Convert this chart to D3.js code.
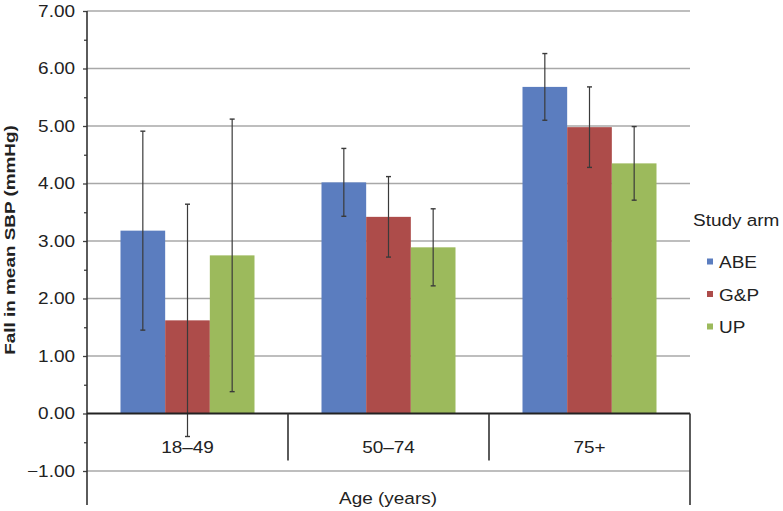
<!DOCTYPE html>
<html>
<head>
<meta charset="utf-8">
<script src="https://cdn.jsdelivr.net/npm/d3@7"></script>
<style>
  html, body { margin: 0; padding: 0; background: #fff; }
  svg { display: block; }
  text { font-family: "Liberation Sans", Arial, sans-serif; fill: #222; }
</style>
</head>
<body>
<svg id="chart" width="783" height="511"></svg>
<script>
// ---- data ----
const categories = ["18\u201349", "50\u201374", "75+"];
const seriesNames = ["ABE", "G&P", "UP"];
const seriesColors = ["#5b7dbf", "#ad4c4a", "#9cba5c"];
const meanABE = [3.18, 4.02, 5.68];
const meanGP  = [1.62, 3.42, 4.98];
const meanUP  = [2.75, 2.89, 4.35];
const errABE  = [1.73, 0.59, 0.58];
const errGP   = [2.02, 0.70, 0.70];
const errUP   = [2.37, 0.67, 0.64];
const yTicks = [-1, 0, 1, 2, 3, 4, 5, 6, 7];
const yMinorTicks = [-0.5, 0.5, 1.5, 2.5, 3.5, 4.5, 5.5, 6.5];
const yTitle = "Fall in mean SBP (mmHg)";
const xTitle = "Age (years)";
const legendTitle = "Study arm";

const means = [meanABE, meanGP, meanUP];
const errs = [errABE, errGP, errUP];

// ---- layout ----
const plotLeft = 87, plotRight = 690, plotTop = 11, bottomLine = 505;
const SX = 1.15; // horizontal text stretch
const svg = d3.select("#chart");

const y = d3.scaleLinear().domain([-1, 7]).range([471, plotTop]);
const x0 = d3.scaleBand().domain(categories).range([plotLeft, plotRight]).paddingInner(0).paddingOuter(0);
const x1 = d3.scaleBand().domain(seriesNames).range([0, x0.bandwidth()]).paddingInner(0).paddingOuter(0.75);

// gridlines
svg.append("g").selectAll("line")
  .data(yTicks.filter(d => d !== 0))
  .join("line")
  .attr("x1", plotLeft).attr("x2", plotRight)
  .attr("y1", d => y(d)).attr("y2", d => y(d))
  .attr("stroke", "#a8a8a8").attr("stroke-width", 1.4);

// bars
const groups = svg.append("g").selectAll("g")
  .data(categories)
  .join("g")
  .attr("transform", d => `translate(${x0(d)},0)`);

groups.each(function(cat, ci) {
  const g = d3.select(this);
  seriesNames.forEach((s, si) => {
    const v = means[si][ci];
    g.append("rect")
      .attr("x", x1(s)).attr("width", x1.bandwidth())
      .attr("y", y(Math.max(v, 0))).attr("height", Math.abs(y(v) - y(0)))
      .attr("fill", seriesColors[si]);
  });
});

// error bars
groups.each(function(cat, ci) {
  const g = d3.select(this);
  seriesNames.forEach((s, si) => {
    const v = means[si][ci], e = errs[si][ci];
    const cx = x1(s) + x1.bandwidth() / 2;
    g.append("line").attr("x1", cx).attr("x2", cx)
      .attr("y1", y(v + e)).attr("y2", y(v - e))
      .attr("stroke", "#3a3a3a").attr("stroke-width", 1.2);
    [v + e, v - e].forEach(t => {
      g.append("line").attr("x1", cx - 2.5).attr("x2", cx + 2.5)
        .attr("y1", y(t)).attr("y2", y(t))
        .attr("stroke", "#3a3a3a").attr("stroke-width", 1.4);
    });
  });
});

// y axis
const yAxis = d3.axisLeft(y).tickValues(yTicks).tickSize(4).tickSizeOuter(0)
  .tickFormat(d3.format(".2f")).tickPadding(8);
const yg = svg.append("g").attr("transform", `translate(${plotLeft},0)`).call(yAxis);
yg.select(".domain").remove();
yg.selectAll(".tick line").attr("stroke", "#404040").attr("stroke-width", 1.3);
yg.selectAll(".tick text")
  .attr("font-size", 16.5)
  .attr("fill", "#222")
  .attr("x", -12 / SX)
  .attr("transform", `scale(${SX},1)`);

const yMinor = d3.axisLeft(y).tickValues(yMinorTicks).tickSize(3).tickFormat("");
const ym = svg.append("g").attr("transform", `translate(${plotLeft},0)`).call(yMinor);
ym.select(".domain").remove();
ym.selectAll(".tick line").attr("stroke", "#404040").attr("stroke-width", 1.3);

// y axis line
svg.append("line").attr("x1", plotLeft).attr("x2", plotLeft).attr("y1", plotTop).attr("y2", bottomLine)
  .attr("stroke", "#333").attr("stroke-width", 1.6);

// category axis at zero
svg.append("line").attr("x1", plotLeft).attr("x2", plotRight).attr("y1", y(0)).attr("y2", y(0))
  .attr("stroke", "#222").attr("stroke-width", 1.8);
// dividers
svg.append("g").selectAll("line")
  .data(categories.slice(1))
  .join("line")
  .attr("x1", d => x0(d)).attr("x2", d => x0(d))
  .attr("y1", y(0)).attr("y2", y(0) + 47)
  .attr("stroke", "#333").attr("stroke-width", 1.6);
svg.append("line").attr("x1", plotRight).attr("x2", plotRight).attr("y1", y(0)).attr("y2", bottomLine)
  .attr("stroke", "#333").attr("stroke-width", 1.6);

// category labels
svg.append("g").selectAll("text")
  .data(categories)
  .join("text")
  .attr("transform", d => `translate(${x0(d) + x0.bandwidth() / 2},453) scale(${SX},1)`)
  .attr("text-anchor", "middle")
  .attr("font-size", 16.5)
  .text(d => d);

// x title
svg.append("text")
  .attr("transform", `translate(388,504) scale(${SX},1)`)
  .attr("text-anchor", "middle")
  .attr("font-size", 16.5)
  .text(xTitle);

// y title
svg.append("text")
  .attr("transform", `translate(15,240) rotate(-90) scale(${SX + 0.07},1)`)
  .attr("text-anchor", "middle")
  .attr("font-size", 15.5)
  .attr("font-weight", "bold")
  .text(yTitle);

// legend
svg.append("text")
  .attr("transform", `translate(693,226) scale(${SX},1)`)
  .attr("font-size", 16.5)
  .text(legendTitle);
const leg = svg.append("g").selectAll("g")
  .data(seriesNames)
  .join("g")
  .attr("transform", (d, i) => `translate(707,${262 + i * 32.5})`);
leg.append("rect").attr("x", 0).attr("y", -3.5).attr("width", 6).attr("height", 6)
  .attr("fill", (d, i) => seriesColors[i]);
leg.append("text")
  .attr("transform", `translate(12,6) scale(${SX},1)`)
  .attr("font-size", 16.5)
  .text(d => d);
</script>
</body>
</html>
